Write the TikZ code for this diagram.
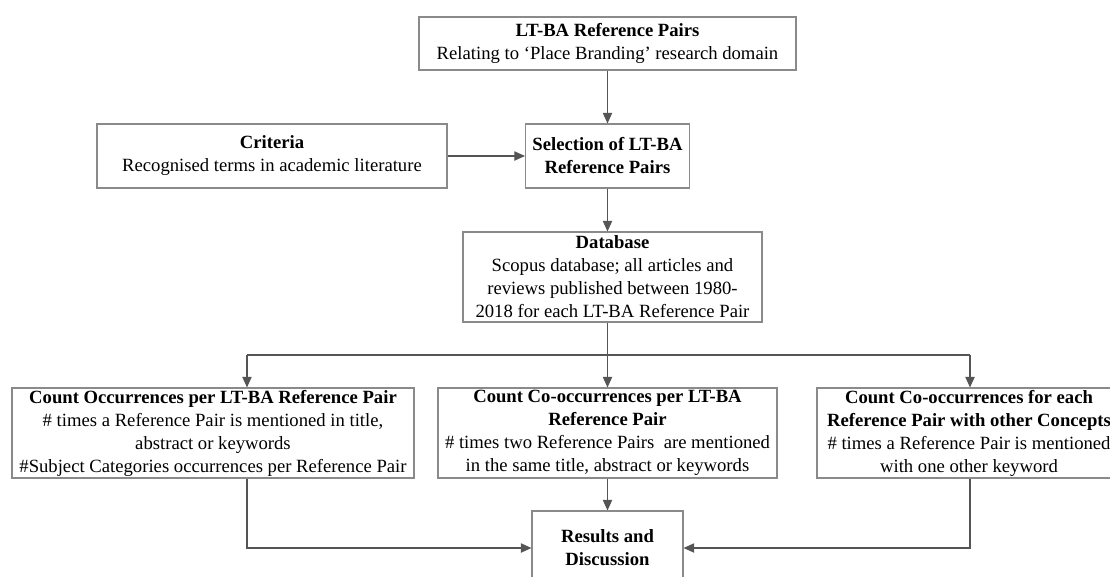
\documentclass[tikz,border=0pt]{standalone}
\usepackage{fontspec}
\setmainfont{Liberation Serif}
\usetikzlibrary{arrows.meta}
\definecolor{boxgray}{HTML}{8A8A8A}
\definecolor{linegray}{HTML}{555555}
\begin{document}
\begin{tikzpicture}[x=0.75pt,y=-0.75pt,
  box/.style={draw=boxgray, line width=0.8pt, fill=white, align=center,
    font=\fontsize{14}{17.25}\selectfont, inner sep=1pt},
  conn/.style={draw=linegray, line width=0.9pt, -{Triangle[length=8pt,width=7pt]}},
  plain/.style={draw=linegray, line width=0.9pt}]
\useasboundingbox (0,0) rectangle (1110,576);
\clip (0,0) rectangle (1110,576);

\node[box, minimum width=282.75pt, minimum height=39.75pt] (top) at (607.5,43.5)
  {\textbf{LT-BA Reference Pairs}\\Relating to ‘Place Branding’ research domain};
\node[box, minimum width=262.5pt, minimum height=48pt] (crit) at (272,156)
  {\textbf{Criteria}\\Recognised terms in academic literature};
\node[box, minimum width=123pt, minimum height=48pt] (sel) at (607.5,156)
  {\textbf{Selection of LT-BA}\\\textbf{Reference Pairs}};
\node[box, minimum width=224.25pt, minimum height=67.5pt] (db) at (612.5,277)
  {\textbf{Database}\\Scopus database; all articles and\\reviews published between 1980-\\2018 for each LT-BA Reference Pair};
\node[box, minimum width=301.5pt, minimum height=67.5pt] (left) at (213,433)
  {\textbf{Count Occurrences per LT-BA Reference Pair}\\\# times a Reference Pair is mentioned in title,\\abstract or keywords\\\#Subject Categories occurrences per Reference Pair};
\node[box, minimum width=254.25pt, minimum height=67.5pt] (mid) at (607.5,433)
  {\textbf{Count Co-occurrences per LT-BA}\\\textbf{Reference Pair}\\\# times two Reference Pairs\ \ are mentioned\\in the same title, abstract or keywords};
\node[box, minimum width=228pt, minimum height=67.5pt] (right) at (969,433)
  {\textbf{Count Co-occurrences for each}\\\textbf{Reference Pair with other Concepts}\\\# times a Reference Pair is mentioned\\with one other keyword};
\node[box, minimum width=113.25pt, minimum height=55.5pt] (res) at (607.5,548)
  {\textbf{Results and}\\\textbf{Discussion}};

\coordinate (bl) at (247,355);
\coordinate (bm) at (607.5,355);
\coordinate (br) at (970,355);

\draw[conn] (top) -- (sel);
\draw[conn] (crit) -- (sel);
\draw[conn] (sel) -- (sel |- db.north);
\draw[plain] (sel |- db.south) -- (bm);
\draw[plain] (bl) -- (br);
\draw[conn] (bl) -- (bl |- left.north);
\draw[conn] (bm) -- (mid);
\draw[conn] (br) -- (br |- right.north);
\draw[conn] (mid) -- (res);
\draw[conn] (bl |- left.south) |- (res.west);
\draw[conn] (br |- right.south) |- (res.east);
\end{tikzpicture}
\end{document}
